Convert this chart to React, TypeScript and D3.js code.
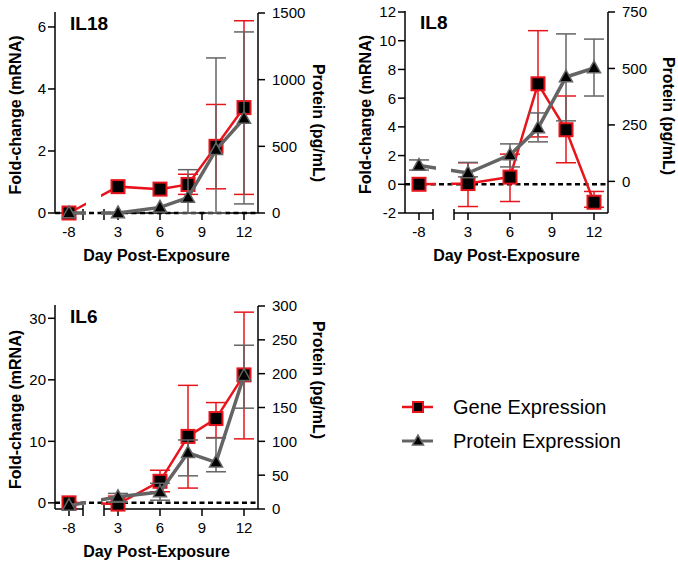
import React from "react";
import * as d3 from "d3";

const FONT = "'Liberation Sans', Arial, Helvetica, sans-serif";
const RED = "#e8141c";
const GREY = "#646464";

const days = [-8, 3, 6, 8, 10, 12];
const xTickValues = [-8, 3, 6, 9, 12];

// IL18
const il18Gene = [0, 0.85, 0.77, 0.92, 2.15, 3.4];
const il18GeneLo = [0, 0.85, 0.77, 0.6, 0.78, 0.6];
const il18GeneHi = [0, 0.85, 0.77, 1.25, 3.5, 6.2];
const il18Prot = [0, 0, 42, 116, 473, 709];
const il18ProtLo = [0, 0, 42, 0, 0, 68];
const il18ProtHi = [0, 0, 42, 325, 1163, 1358];
const il18LeftTicks = [0, 2, 4, 6];
const il18RightTicks = [0, 500, 1000, 1500];

// IL8
const il8Gene = [0, 0.05, 0.5, 7.0, 3.8, -1.25];
const il8GeneLo = [0, -1.55, -1.2, 3.3, 1.5, -1.6];
const il8GeneHi = [0, 1.5, 2.1, 10.7, 6.15, -0.5];
const il8Prot = [70, 37, 117, 236, 462, 502];
const il8ProtLo = [50, 20, 64, 175, 268, 378];
const il8ProtHi = [95, 84, 166, 303, 653, 630];
const il8LeftTicks = [-2, 0, 2, 4, 6, 8, 10, 12];
const il8RightTicks = [0, 250, 500, 750];

// IL6
const il6Gene = [0, -0.2, 3.5, 10.8, 13.7, 20.8];
const il6GeneLo = [0, -0.2, 1.8, 2.4, 10.6, 10.4];
const il6GeneHi = [0, 1.1, 5.3, 19.1, 16.3, 31];
const il6Prot = [5, 18, 25, 83, 69, 197];
const il6ProtLo = [5, 10, 13, 49, 55, 149];
const il6ProtHi = [5, 23, 38, 102, 105, 242];
const il6LeftTicks = [0, 10, 20, 30];
const il6RightTicks = [0, 50, 100, 150, 200, 250, 300];

type PanelProps = {
  id: string;
  label: string;
  x0: number;
  yTop: number;
  yBot: number;
  rightTitleY: number;
  leftDomain: [number, number];
  rightDomain: [number, number];
  leftTicks: number[];
  rightTicks: number[];
  gene: number[];
  geneLo: number[];
  geneHi: number[];
  prot: number[];
  protLo: number[];
  protHi: number[];
};

function Square({ x, y, s = 13 }: { x: number; y: number; s?: number }) {
  return (
    <rect x={x - s / 2} y={y - s / 2} width={s} height={s} fill="#000" stroke={RED} strokeWidth={2} />
  );
}

function Triangle({ x, y, s = 13 }: { x: number; y: number; s?: number }) {
  const h = s * 0.9;
  const pts = `${x},${y - h * 0.6} ${x + s / 2},${y + h * 0.4} ${x - s / 2},${y + h * 0.4}`;
  return <polygon points={pts} fill="#000" stroke={GREY} strokeWidth={1.5} strokeLinejoin="miter" />;
}

function ErrorBars({ xs, vals, lo, hi, y, color }: any) {
  const cap = 10;
  return (
    <g stroke={color} strokeWidth={1.5} fill="none">
      {xs.map((x: number, i: number) => {
        if (hi[i] === lo[i]) return null;
        const y1 = y(lo[i]);
        const y2 = y(hi[i]);
        return (
          <g key={i}>
            <line x1={x} x2={x} y1={y1} y2={y2} />
            {lo[i] !== vals[i] && <line x1={x - cap} x2={x + cap} y1={y1} y2={y1} />}
            {hi[i] !== vals[i] && <line x1={x - cap} x2={x + cap} y1={y2} y2={y2} />}
          </g>
        );
      })}
    </g>
  );
}

function Panel(p: PanelProps) {
  const s1 = d3.scaleLinear().domain([-9, -7]).range([p.x0 - 14, p.x0 + 14]);
  const s2 = d3.scaleLinear().domain([2, 13]).range([p.x0 + 35, p.x0 + 189]);
  const xPos = (d: number) => (d < 0 ? s1(d) : s2(d));
  const yL = d3.scaleLinear().domain(p.leftDomain).range([p.yBot, p.yTop]);
  const yR = d3.scaleLinear().domain(p.rightDomain).range([p.yBot, p.yTop]);
  const xL = s1(-9);
  const xR = s2(13);
  const seg1End = s1(-7);
  const seg2Start = s2(2);
  const gapStart = p.x0 + 17;
  const gapEnd = p.x0 + 32;
  const xs = days.map(xPos);

  const geneLine = d3
    .line<number>()
    .x((_, i) => xs[i])
    .y((v) => yL(v))(p.gene) as string;
  const protLine = d3
    .line<number>()
    .x((_, i) => xs[i])
    .y((v) => yR(v))(p.prot) as string;

  const clipId = `clip-${p.id}`;
  const cy = (p.yTop + p.yBot) / 2;
  const cx = (xL + xR) / 2;

  return (
    <g>
      <defs>
        <clipPath id={clipId}>
          <rect x={xL - 30} y={p.yTop - 50} width={gapStart - (xL - 30)} height={p.yBot - p.yTop + 100} />
          <rect x={gapEnd} y={p.yTop - 50} width={xR + 30 - gapEnd} height={p.yBot - p.yTop + 100} />
        </clipPath>
      </defs>

      {/* axes */}
      <g stroke="#000" strokeWidth={1.5} fill="none">
        <line x1={xL} x2={xL} y1={p.yTop - 1} y2={p.yBot} />
        <line x1={xR} x2={xR} y1={p.yTop} y2={p.yBot} />
        <line x1={xL} x2={seg1End} y1={p.yBot} y2={p.yBot} />
        <line x1={seg2Start} x2={xR} y1={p.yBot} y2={p.yBot} />
        <line x1={seg1End} x2={seg1End} y1={p.yBot - 4} y2={p.yBot + 7} />
        <line x1={seg2Start} x2={seg2Start} y1={p.yBot - 4} y2={p.yBot + 7} />
        {xTickValues.map((t) => (
          <line key={t} x1={xPos(t)} x2={xPos(t)} y1={p.yBot} y2={p.yBot + 7} />
        ))}
        {p.leftTicks.map((t) => (
          <line key={t} x1={xL - 7} x2={xL} y1={yL(t)} y2={yL(t)} />
        ))}
        {p.rightTicks.map((t) => (
          <line key={t} x1={xR} x2={xR + 7} y1={yR(t)} y2={yR(t)} />
        ))}
      </g>
      <g fontFamily={FONT} fontSize={15} fill="#000">
        {p.leftTicks.map((t) => (
          <text key={t} x={xL - 9} y={yL(t)} dy="0.36em" textAnchor="end">
            {t}
          </text>
        ))}
        {p.rightTicks.map((t) => (
          <text key={t} x={xR + 14} y={yR(t)} dy="0.36em" textAnchor="start">
            {t}
          </text>
        ))}
        {xTickValues.map((t) => (
          <text key={t} x={xPos(t)} y={p.yBot + 24} textAnchor="middle">
            {t}
          </text>
        ))}
      </g>
      <g fontFamily={FONT} fontSize={16} fontWeight="bold" fill="#000">
        <text x={cx} y={p.yBot + 48} textAnchor="middle">
          Day Post-Exposure
        </text>
        <text transform={`translate(${xL - 40},${cy + 2}) rotate(-90)`} textAnchor="middle" dy="0.36em">
          Fold-change (mRNA)
        </text>
        <text transform={`translate(${xR + 61},${p.rightTitleY}) rotate(90)`} textAnchor="middle" dy="0.36em">
          Protein (pg/mL)
        </text>
      </g>
      <text x={p.x0 + 1} y={p.yTop + 17} fontFamily={FONT} fontSize={19} fontWeight="bold">
        {p.label}
      </text>

      {/* zero dashed line */}
      <line x1={xL} x2={xR} y1={yL(0)} y2={yL(0)} stroke="#000" strokeWidth={2.5} strokeDasharray="5,3.5" />

      {/* gene series */}
      <ErrorBars xs={xs} vals={p.gene} lo={p.geneLo} hi={p.geneHi} y={yL} color={RED} />
      <path d={geneLine} fill="none" stroke={RED} strokeWidth={2.5} clipPath={`url(#${clipId})`} />
      {xs.map((x, i) => (
        <Square key={i} x={x} y={yL(p.gene[i])} />
      ))}

      {/* protein series */}
      <ErrorBars xs={xs} vals={p.prot} lo={p.protLo} hi={p.protHi} y={yR} color={GREY} />
      <path d={protLine} fill="none" stroke={GREY} strokeWidth={3.5} clipPath={`url(#${clipId})`} />
      {xs.map((x, i) => (
        <Triangle key={i} x={x} y={yR(p.prot[i])} />
      ))}
    </g>
  );
}

export default function App() {
  return (
    <svg
      width={678}
      height={565}
      style={{ position: "absolute", left: 0, top: 0, background: "#fff" }}
    >
      <rect width={678} height={565} fill="#fff" />
      <Panel
        id="il18"
        label="IL18"
        x0={69}
        yTop={13}
        yBot={213}
        rightTitleY={123}
        leftDomain={[0, 6.45]}
        rightDomain={[0, 1500]}
        leftTicks={il18LeftTicks}
        rightTicks={il18RightTicks}
        gene={il18Gene}
        geneLo={il18GeneLo}
        geneHi={il18GeneHi}
        prot={il18Prot}
        protLo={il18ProtLo}
        protHi={il18ProtHi}
      />
      <Panel
        id="il8"
        label="IL8"
        x0={419}
        yTop={12}
        yBot={213}
        rightTitleY={116}
        leftDomain={[-2, 12]}
        rightDomain={[-140, 750]}
        leftTicks={il8LeftTicks}
        rightTicks={il8RightTicks}
        gene={il8Gene}
        geneLo={il8GeneLo}
        geneHi={il8GeneHi}
        prot={il8Prot}
        protLo={il8ProtLo}
        protHi={il8ProtHi}
      />
      <Panel
        id="il6"
        label="IL6"
        x0={69}
        yTop={306}
        yBot={509}
        rightTitleY={380}
        leftDomain={[-1, 32]}
        rightDomain={[0, 300]}
        leftTicks={il6LeftTicks}
        rightTicks={il6RightTicks}
        gene={il6Gene}
        geneLo={il6GeneLo}
        geneHi={il6GeneHi}
        prot={il6Prot}
        protLo={il6ProtLo}
        protHi={il6ProtHi}
      />

      {/* legend */}
      <g>
        <line x1={402} x2={433} y1={407} y2={407} stroke={RED} strokeWidth={2.5} />
        <Square x={418} y={407} s={10} />
        <line x1={402} x2={433} y1={441} y2={441} stroke={GREY} strokeWidth={3} />
        <Triangle x={418} y={441} s={11} />
        <text x={453} y={414} fontFamily={FONT} fontSize={20} fill="#000">
          Gene Expression
        </text>
        <text x={453} y={448} fontFamily={FONT} fontSize={20} fill="#000">
          Protein Expression
        </text>
      </g>
    </svg>
  );
}
